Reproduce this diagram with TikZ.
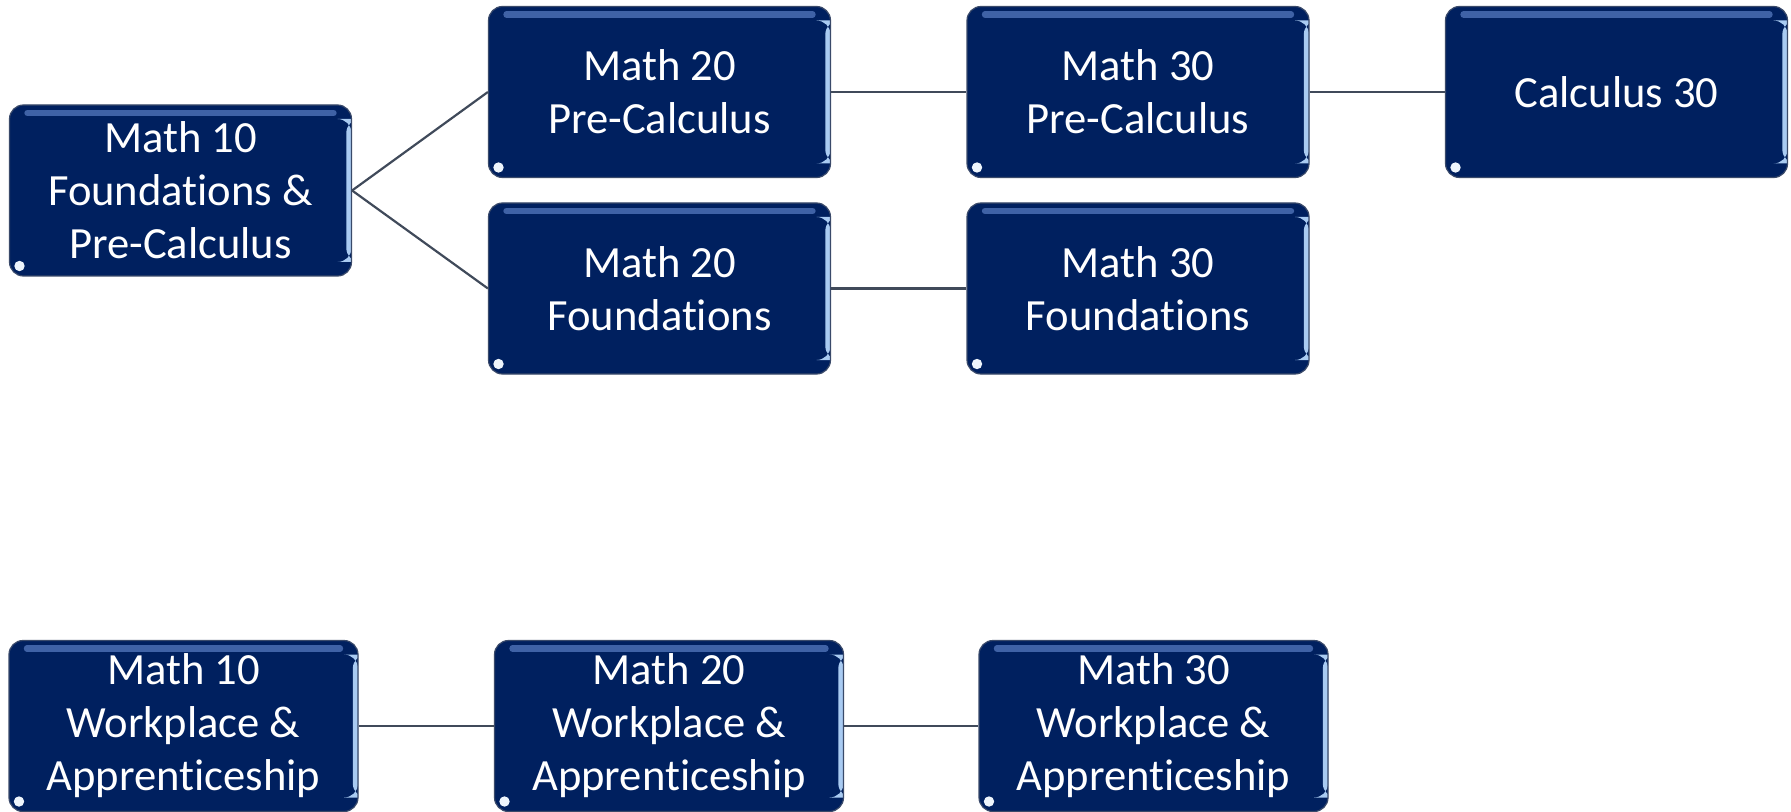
\documentclass[tikz,border=0pt]{standalone}
\usepackage{fontspec}
\setmainfont{Carlito}[Ligatures=NoCommon]
\definecolor{navy}{HTML}{00205F}
\definecolor{boxedge}{HTML}{3A4A6A}
\definecolor{topglow}{HTML}{3F62A6}
\definecolor{sideglow}{HTML}{A9CBF2}
\definecolor{linkgray}{HTML}{404A5A}
\tikzset{
  course/.style={draw=boxedge, line width=0.6pt, fill=navy, rounded corners=7pt,
    minimum width=171pt, minimum height=85.5pt, inner sep=0pt, text=white, align=center,
    font=\fontsize{22.3}{26.5}\selectfont,
    path picture={
      \draw[topglow, line width=3.2pt, line cap=round]
        ([xshift=9pt,yshift=-4pt]path picture bounding box.north west) --
        ([xshift=-9pt,yshift=-4pt]path picture bounding box.north east);
      \fill[sideglow] ([xshift=-2.6pt,yshift=-7pt]path picture bounding box.north east)
        rectangle ([yshift=7pt]path picture bounding box.south east);
      \fill[white!80!sideglow] ([xshift=5pt,yshift=5pt]path picture bounding box.south west) circle (2.6pt);
    }},
  wide/.style={course, minimum width=174.5pt},
  link/.style={draw=linkgray, line width=1.1pt}
}
\begin{document}
\begin{tikzpicture}[x=0.5pt,y=-0.5pt]
\useasboundingbox (0,0) rectangle (1791,812);
\node[course] (m10fp) at (180.5,190.5) {Math 10\\Foundations \&\\Pre-Calculus};
\node[course] (m20pc) at (659.5,92) {Math 20\\Pre-Calculus};
\node[course] (m30pc) at (1138,92) {Math 30\\Pre-Calculus};
\node[course] (calc) at (1616.5,92) {Calculus 30};
\node[course] (m20f) at (659.5,288.5) {Math 20\\Foundations};
\node[course] (m30f) at (1138,288.5) {Math 30\\Foundations};
\node[wide] (m10wa) at (183.5,726) {Math 10\\Workplace \&\\Apprenticeship};
\node[wide] (m20wa) at (669,726) {Math 20\\Workplace \&\\Apprenticeship};
\node[wide] (m30wa) at (1153.5,726) {Math 30\\Workplace \&\\Apprenticeship};
\draw[link] (m10fp.east) -- (m20pc.west);
\draw[link] (m10fp.east) -- (m20f.west);
\draw[link] (m20pc) -- (m30pc);
\draw[link] (m30pc) -- (calc);
\draw[link] (m20f) -- (m30f);
\draw[link] (m10wa) -- (m20wa);
\draw[link] (m20wa) -- (m30wa);
\end{tikzpicture}
\end{document}
